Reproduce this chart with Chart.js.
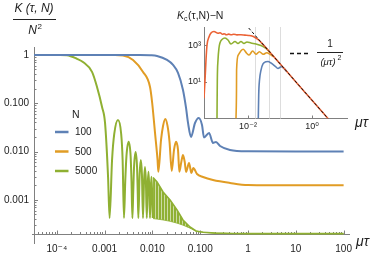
<!DOCTYPE html>
<html><head><meta charset="utf-8">
<script src="https://cdn.jsdelivr.net/npm/chart.js@4.4.1/dist/chart.umd.min.js"></script>
<style>
html,body{margin:0;padding:0;background:#fff;}
#wrap{position:relative;width:374px;height:256px;overflow:hidden;}
canvas{position:absolute;left:0;top:0;}
</style></head><body>
<div id="wrap"><canvas id="main" width="374" height="256"></canvas><canvas id="inset" width="374" height="256"></canvas></div>
<script>
// ---------------- main chart data: K(tau,N)/N^2 vs mu*tau ----------------
const n100X = [3.33e-5, 5.5e-3, 8.9e-3, 0.0125, 0.0202, 0.027, 0.0343, 0.0436, 0.0505, 0.0556, 0.0642, 0.0778, 0.093, 0.109, 0.12, 0.153, 0.185, 0.214, 0.26, 0.42, 1, 10, 100];
const n100Y = [1, 1, 0.986, 0.953, 0.788, 0.621, 0.424, 0.188, 0.08, 0.0391, 0.0201, 0.039, 0.0496, 0.0356, 0.0196, 0.0243, 0.0151, 0.0158, 0.01305, 0.0108, 0.0101, 0.01, 0.01];

const n500X = [3.33e-5, 1.65e-3, 2.43e-3, 3.93e-3, 6.36e-3, 8.91e-3, 0.0099, 0.01133, 0.0128, 0.0133, 0.01514, 0.01667, 0.01862, 0.0207, 0.0228, 0.02534, 0.0283, 0.0312, 0.0343, 0.0366, 0.0402, 0.0436, 0.0474, 0.0505, 0.0583, 0.0654, 0.0716, 0.0857, 0.1145, 0.185, 0.42, 1, 10, 100];
const n500Y = [1, 1, 0.976, 0.788, 0.445, 0.217, 0.1, 0.0243, 0.0067, 0.0038, 0.0174, 0.0339, 0.0473, 0.0339, 0.0159, 0.00397, 0.0108, 0.0159, 0.0108, 0.0038, 0.0061, 0.0085, 0.0061, 0.0038, 0.0058, 0.0036, 0.00457, 0.00344, 0.00298, 0.00258, 0.00224, 0.00203, 0.002, 0.002];

const n5000X = [3.33e-5, 1.17e-4, 1.63e-4, 2.65e-4, 3.52e-4, 5.45e-4, 6.93e-4, 8.83e-4, 1.02e-3, 1.18e-3, 1.27e-3,
  1.43e-3, 1.59e-3, 1.9e-3, 2.22e-3, 2.38e-3, 2.54e-3,
  2.70e-3, 2.86e-3, 3.18e-3, 3.50e-3, 3.65e-3, 3.81e-3,
  3.97e-3, 4.13e-3, 4.45e-3, 4.76e-3, 4.92e-3, 5.08e-3,
  5.40e-3, 5.72e-3, 6.03e-3, 6.35e-3,
  6.67e-3, 6.99e-3, 7.30e-3, 7.62e-3,
  7.94e-3, 8.26e-3, 8.57e-3, 8.89e-3,
  9.21e-3, 9.53e-3, 9.84e-3, 1.016e-2];
const n5000Y = [1, 1, 0.986, 0.83, 0.716, 0.445, 0.217, 0.0838, 0.0391, 0.00298, 4.2e-4,
  0.0067, 0.0231, 0.045, 0.0231, 0.0067, 4.2e-4,
  0.0024, 0.008, 0.0159, 0.008, 0.0024, 4.2e-4,
  0.0015, 0.0049, 0.0098, 0.0049, 0.0015, 4.2e-4,
  0.0034, 0.0067, 0.0034, 4.2e-4,
  0.0024, 0.0048, 0.0024, 4.2e-4,
  0.0019, 0.0038, 0.0019, 4.2e-4,
  0.0015, 0.0030, 0.0015, 4.2e-4];

// dense oscillation band of N = 5000 (upper / lower envelope) and its tail
const n5000BandX = [0.0103, 0.0125, 0.0167, 0.0234, 0.0327, 0.0436, 0.0611, 0.0817, 0.1145, 0.204, 0.5, 1, 10, 100];
const n5000BandTop = [0.0029, 0.00235, 0.00146, 9.95e-4, 6.2e-4, 3.84e-4, 2.75e-4, 2.27e-4, 2.14e-4, 2.05e-4, 2.01e-4, 2.0e-4, 2.0e-4, 2.0e-4];
const n5000BandBottom = [4.1e-4, 4.0e-4, 3.84e-4, 3.6e-4, 3.3e-4, 3.0e-4, 2.6e-4, 2.25e-4, 2.14e-4, 2.05e-4, 2.01e-4, 2.0e-4, 2.0e-4, 2.0e-4];

const legendTitle = 'N';
const legendLabels = ['100', '500', '5000'];

const mainXTicks = [1e-4, 1e-3, 1e-2, 0.1, 1, 10, 100];
const mainXTickLabels = ['10\u207B\u2074', '0.001', '0.010', '0.100', '1', '10', '100'];
const mainYTicks = [1e-3, 1e-2, 0.1, 1];
const mainYTickLabels = ['0.001', '0.010', '0.100', '1'];

// ---------------- inset data: K_c(tau,N) - N ----------------
const insetN100X = [0.021, 0.0216, 0.0229, 0.0255, 0.0294, 0.0366, 0.0422, 0.0524, 0.0698, 0.0866, 0.1078, 0.134, 0.166];
const insetN100Y = [0.1, 1.94, 12.9, 45, 97, 130, 133, 110, 75, 55, 69, 55, 36];
const insetN500X = [4.22e-3, 4.37e-3, 4.4e-3, 4.98e-3, 6.04e-3, 7.1e-3, 9.1e-3, 0.0108, 0.014, 0.0178, 0.0227, 0.03, 0.0385, 0.0487, 0.062];
const insetN500Y = [0.1, 3.6, 45, 302, 519, 619, 374, 302, 500, 330, 457, 330, 403, 330, 243];
const insetN5000X = [1.075e-3, 1.1e-3, 1.155e-3, 1.24e-3, 1.33e-3, 1.54e-3, 1.91e-3, 2.37e-3, 2.94e-3, 3.93e-3, 4.87e-3, 6.04e-3, 7.5e-3, 9.3e-3, 0.0124, 0.0178, 0.0255, 0.0365, 0.0487];
const insetN5000Y = [0.1, 12.9, 160, 730, 1371, 2133, 2577, 2002, 1209, 1657, 1288, 1657, 1288, 1556, 1371, 1209, 1000, 685, 420];
const insetLargeX = [4.22e-4, 4.6e-4, 4.87e-4, 5.24e-4, 6.04e-4, 6.98e-4, 8.66e-4, 1.155e-3, 1.35e-3, 1.6e-3, 1.8e-3, 2.1e-3, 2.5e-3, 3.0e-3, 3.6e-3, 4.5e-3, 6e-3, 8e-3, 0.0105, 0.0133, 0.0166, 0.0205, 0.0274, 0.05, 0.1, 0.3, 1, 3.2];
const insetLargeY = [1.3, 20, 160, 1065, 2900, 4840, 5850, 4700, 5000, 4100, 4400, 3900, 4200, 3900, 4100, 3800, 3900, 3700, 3550, 3300, 2750, 2150, 1300, 400, 100, 11, 1, 0.098];
const insetPowerX = [0.0105, 3.2];
const insetPowerY = [9070, 0.0977];
const insetGridX = [0.017, 0.045, 0.1];
const insetXTicks = [0.01, 1];
const insetXTickLabels = ['10\u207B\u00B2', '10\u2070'];
const insetYTicks = [10, 1000];
const insetYTickLabels = ['10\u00B9', '10\u00B3'];

// ---------------- style ----------------
const F = '"Liberation Sans", "DejaVu Sans", Arial, sans-serif';
const AXIS = '#808080';
const TXT = '#222222';
const C_BLUE = 'rgb(94,129,181)';
const C_ORANGE = 'rgb(225,156,36)';
const C_GREEN = 'rgb(143,176,50)';
const C_RED = 'rgb(235,98,53)';
const X_AXIS_AT = 2e-4;

function stripePattern(ctx) {
  const c = document.createElement('canvas');
  c.width = 3; c.height = 4;
  const g = c.getContext('2d');
  g.fillStyle = 'rgb(143,176,50)'; g.fillRect(0, 0, 2, 4);
  g.fillStyle = 'rgba(143,176,50,0.45)'; g.fillRect(2, 0, 1, 4);
  return ctx.createPattern(c, 'repeat');
}

function pts(xs, ys) { return xs.map((x, i) => ({x: x, y: ys[i]})); }
function logTicks(min, max) {
  const out = [];
  for (let d = Math.floor(Math.log10(min)); d <= Math.ceil(Math.log10(max)); d++) {
    for (let k = 1; k <= 9; k++) {
      const v = k * Math.pow(10, d);
      if (v >= min * 0.9999 && v <= max * 1.0001) out.push({v: v, major: k === 1});
    }
  }
  return out;
}

// ---------------- main chart ----------------
const mainAxesPlugin = {
  id: 'mainAxes',
  beforeDatasetsDraw(chart) {
    const {ctx, chartArea: a, scales: {x, y}} = chart;
    ctx.save();
    ctx.strokeStyle = AXIS; ctx.lineWidth = 1;
    const y0 = Math.round(y.getPixelForValue(X_AXIS_AT)) + 0.5;
    ctx.beginPath(); ctx.moveTo(a.left - 2, y0); ctx.lineTo(a.right, y0); ctx.stroke();
    ctx.beginPath();
    logTicks(x.min, x.max).forEach(t => {
      const px = Math.round(x.getPixelForValue(t.v)) + 0.5;
      ctx.moveTo(px, y0); ctx.lineTo(px, y0 - (t.major ? 4 : 2.5));
    });
    logTicks(y.min, y.max).forEach(t => {
      const py = Math.round(y.getPixelForValue(t.v)) + 0.5;
      ctx.moveTo(a.left, py); ctx.lineTo(a.left + (t.major ? 4 : 2.5), py);
    });
    ctx.stroke();
    ctx.restore();
  },
  afterDraw(chart) {
    const ctx = chart.ctx;
    ctx.save();
    ctx.fillStyle = TXT; ctx.strokeStyle = TXT;
    // y-axis title: K(tau,N) / N^2
    ctx.font = 'italic 12px ' + F; ctx.textAlign = 'center'; ctx.textBaseline = 'middle';
    ctx.fillText('K (\u03C4, N)', 34, 9);
    ctx.fillRect(13, 19, 43, 1);
    ctx.textAlign = 'right'; ctx.fillText('N', 37, 31);
    ctx.font = '8px ' + F; ctx.textAlign = 'left'; ctx.fillText('2', 37.5, 27);
    // x-axis title
    ctx.font = 'italic 14px ' + F; ctx.textAlign = 'left';
    ctx.fillText('\u03BC\u03C4', 356, 242);
    // legend
    ctx.font = '10.5px ' + F;
    ctx.fillText(legendTitle, 72, 115);
    const cols = [C_BLUE, C_ORANGE, C_GREEN];
    ctx.font = '10px ' + F;
    legendLabels.forEach((lab, i) => {
      const yy = 132 + i * 19.5;
      ctx.strokeStyle = cols[i]; ctx.lineWidth = 2.5;
      ctx.beginPath(); ctx.moveTo(55, yy); ctx.lineTo(68.5, yy); ctx.stroke();
      ctx.fillStyle = TXT; ctx.fillText(lab, 75, yy + 0.5);
    });
    ctx.restore();
  }
};

const mainCanvas = document.getElementById('main');
new Chart(mainCanvas, {
  type: 'line',
  data: {
    datasets: [
      {data: pts(n100X, n100Y), borderColor: C_BLUE, order: 1},
      {data: pts(n500X, n500Y), borderColor: C_ORANGE, order: 2},
      {data: pts(n5000X, n5000Y), borderColor: C_GREEN, order: 3},
      {data: pts(n5000BandX, n5000BandTop), borderColor: C_GREEN, order: 4, cubicInterpolationMode: 'default', tension: 0, borderWidth: 1.6},
      {data: pts(n5000BandX, n5000BandBottom), borderColor: 'rgba(143,176,50,0.8)', backgroundColor: stripePattern(mainCanvas.getContext('2d')), fill: '-1', order: 5, cubicInterpolationMode: 'default', tension: 0, borderWidth: 1}
    ]
  },
  options: {
    responsive: false, animation: false, devicePixelRatio: 1,
    layout: {padding: {left: 0, right: 24, top: 47, bottom: 0}},
    plugins: {legend: {display: false}, tooltip: {enabled: false}},
    events: [],
    elements: {point: {radius: 0}, line: {cubicInterpolationMode: 'monotone', borderWidth: 2, fill: false}},
    scales: {
      x: {
        type: 'logarithmic', position: 'bottom', min: 3.33e-5, max: 136,
        afterFit: s => { s.height = 13; },
        afterBuildTicks: s => { s.ticks = mainXTicks.map(v => ({value: v})); },
        ticks: {autoSkip: false, maxRotation: 0, padding: 0, color: TXT, font: {family: F, size: 10},
          callback: (v, i) => mainXTickLabels[i]},
        grid: {display: false, drawTicks: false},
        border: {display: false}
      },
      y: {
        type: 'logarithmic', position: 'left', min: 1.28e-4, max: 1.46,
        afterFit: s => { s.width = 34; },
        afterBuildTicks: s => { s.ticks = mainYTicks.map(v => ({value: v})); },
        ticks: {autoSkip: false, padding: 5, color: TXT, font: {family: F, size: 10},
          callback: (v, i) => mainYTickLabels[i]},
        grid: {display: false, drawTicks: false},
        border: {display: true, color: AXIS, width: 1}
      }
    }
  },
  plugins: [mainAxesPlugin]
});

// ---------------- inset chart ----------------
const insetPlugin = {
  id: 'insetDeco',
  beforeDatasetsDraw(chart) {
    const {ctx, chartArea: a, scales: {x, y}} = chart;
    ctx.save();
    ctx.strokeStyle = '#dddddd'; ctx.lineWidth = 1;
    ctx.beginPath();
    insetGridX.forEach(v => {
      const px = Math.round(x.getPixelForValue(v)) + 0.5;
      ctx.moveTo(px, a.top); ctx.lineTo(px, a.bottom);
    });
    ctx.stroke();
    ctx.strokeStyle = AXIS;
    ctx.beginPath();
    insetXTicks.forEach(v => {
      const px = Math.round(x.getPixelForValue(v)) + 0.5;
      ctx.moveTo(px, a.bottom); ctx.lineTo(px, a.bottom - 3);
    });
    insetYTicks.forEach(v => {
      const py = Math.round(y.getPixelForValue(v)) + 0.5;
      ctx.moveTo(a.left, py); ctx.lineTo(a.left + 3, py);
    });
    ctx.stroke();
    ctx.restore();
  },
  afterDraw(chart) {
    const ctx = chart.ctx;
    ctx.save();
    ctx.fillStyle = TXT; ctx.textBaseline = 'alphabetic'; ctx.textAlign = 'left';
    // title K_c(tau,N)-N
    ctx.font = 'italic 10.5px ' + F;
    ctx.fillText('K', 177, 18.5);
    let w = ctx.measureText('K').width;
    ctx.font = '7px ' + F;
    ctx.fillText('c', 177 + w, 21);
    const wc = ctx.measureText('c').width;
    ctx.font = '10.5px ' + F;
    ctx.fillText('(\u03C4,N)\u2212N', 177 + w + wc + 0.5, 18.5);
    // axis title
    ctx.font = 'italic 14px ' + F; ctx.textBaseline = 'middle';
    ctx.fillText('\u03BC\u03C4', 355, 123);
    // legend: dashed line and 1/(mu tau)^2
    ctx.strokeStyle = '#111'; ctx.lineWidth = 1.5; ctx.setLineDash([4, 3]);
    ctx.beginPath(); ctx.moveTo(290, 53.5); ctx.lineTo(309, 53.5); ctx.stroke();
    ctx.setLineDash([]);
    ctx.textAlign = 'center'; ctx.font = '10px ' + F;
    ctx.fillText('1', 330, 44);
    ctx.fillRect(317, 52, 26, 1);
    ctx.font = 'italic 9.5px ' + F;
    ctx.fillText('(\u03BC\u03C4)', 328, 62);
    ctx.font = '7px ' + F; ctx.textAlign = 'left';
    ctx.fillText('2', 337.5, 58.5);
    ctx.restore();
  }
};

new Chart(document.getElementById('inset'), {
  type: 'line',
  data: {
    datasets: [
      {data: pts(insetPowerX, insetPowerY), borderColor: '#111', borderWidth: 1, borderDash: [3, 2], order: 0, cubicInterpolationMode: 'default', tension: 0},
      {data: pts(insetLargeX, insetLargeY), borderColor: C_RED, order: 1},
      {data: pts(insetN100X, insetN100Y), borderColor: C_BLUE, order: 2},
      {data: pts(insetN500X, insetN500Y), borderColor: C_ORANGE, order: 3},
      {data: pts(insetN5000X, insetN5000Y), borderColor: C_GREEN, order: 4}
    ]
  },
  options: {
    responsive: false, animation: false, devicePixelRatio: 1,
    layout: {padding: {left: 180, right: 27, top: 27, bottom: 121.5}},
    plugins: {legend: {display: false}, tooltip: {enabled: false}},
    events: [],
    elements: {point: {radius: 0}, line: {cubicInterpolationMode: 'monotone', borderWidth: 1.6, fill: false}},
    scales: {
      x: {
        type: 'logarithmic', position: 'bottom', min: 4.22e-4, max: 12.4,
        afterFit: s => { s.height = 16; },
        afterBuildTicks: s => { s.ticks = insetXTicks.map(v => ({value: v})); },
        ticks: {autoSkip: false, maxRotation: 0, padding: 3, color: TXT, font: {family: F, size: 9},
          callback: (v, i) => insetXTickLabels[i]},
        grid: {display: false, drawTicks: false},
        border: {display: true, color: AXIS, width: 1}
      },
      y: {
        type: 'logarithmic', position: 'left', min: 0.1, max: 1.03e4,
        afterFit: s => { s.width = 24; },
        afterBuildTicks: s => { s.ticks = insetYTicks.map(v => ({value: v})); },
        ticks: {autoSkip: false, padding: 3, color: TXT, font: {family: F, size: 9},
          callback: (v, i) => insetYTickLabels[i]},
        grid: {display: false, drawTicks: false},
        border: {display: true, color: AXIS, width: 1}
      }
    }
  },
  plugins: [insetPlugin]
});
</script>
</body></html>
